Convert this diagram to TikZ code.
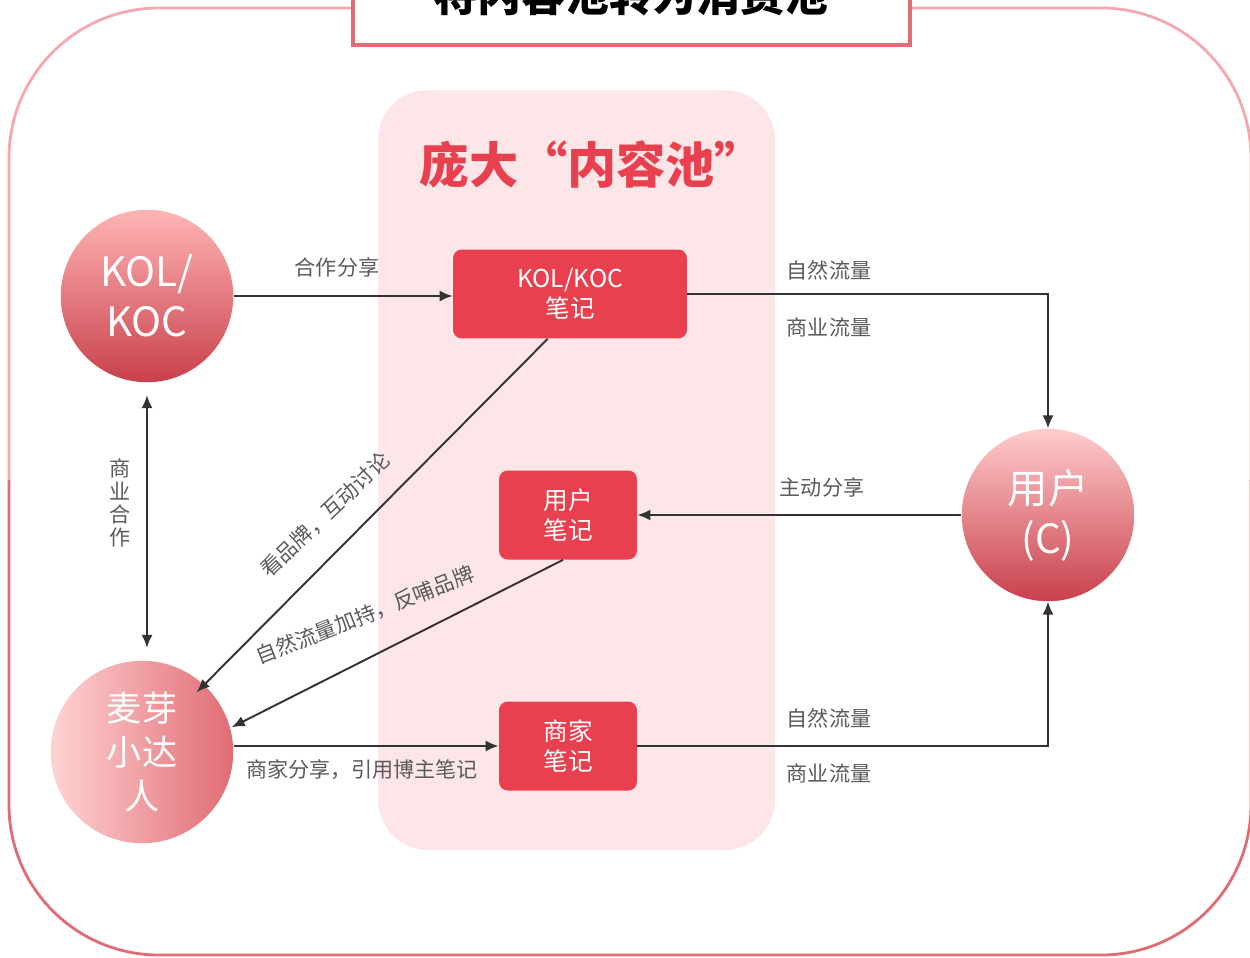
\documentclass[tikz,border=0pt]{standalone}
\usepackage{fontspec}
\setmainfont{Noto Sans CJK SC}
\usepackage{tikz}
\usetikzlibrary{positioning, arrows.meta}

\definecolor{framepink}{HTML}{F6A7B0}
\definecolor{framered}{HTML}{E06C74}
\definecolor{titlered}{HTML}{E06C74}
\definecolor{poolpink}{HTML}{FDE6E8}
\definecolor{notered}{HTML}{E8404F}
\definecolor{labelgray}{HTML}{5A5A5A}

\tikzset{
  note/.style={draw=none, fill=notered, rounded corners=5pt, text=white,
    font=\fontsize{14}{17}\selectfont, align=center},
  role/.style={circle, minimum size=3.45cm, text=white, align=center, inner sep=0pt},
  flow/.style={line width=1.1pt, black!80, -{Latex[length=2.6mm, width=2.2mm]}},
  lbl/.style={text=labelgray, font=\fontsize{12}{14}\selectfont, inner sep=1pt}
}

\begin{document}
\begin{tikzpicture}[x=0.02cm, y=-0.02cm]
  \useasboundingbox (0,0) rectangle (1250,957);

  % frame: light on top, darker below
  \begin{scope}
    \clip (0,0) rectangle (1250,480);
    \draw [framepink, line width=1.6pt, rounded corners=3cm] (9,8) rectangle (1251,955);
  \end{scope}
  \begin{scope}
    \clip (0,480) rectangle (1250,957);
    \draw [framered, line width=1.6pt, rounded corners=3cm] (9,8) rectangle (1251,955);
  \end{scope}
  \draw [fill=white, draw=titlered, line width=2pt] (353,-30) rectangle (910,45);
  \node (title) at (631,-5) {\fontsize{25}{30}\selectfont\bfseries 将内容池转为消费池};

  % content pool
  \fill [poolpink, rounded corners=1cm] (378,90) rectangle (775,850);
  \node [text=notered] (pool) at (592,165) {\fontsize{28}{32}\selectfont\bfseries 庞大“内容池”};

  % notes
  \node [note, minimum width=4.68cm, minimum height=1.78cm] (kolnote) at (570,294) {KOL/KOC\\笔记};
  \node [note, minimum width=2.76cm, minimum height=1.78cm] (usernote) at (568,515) {用户\\笔记};
  \node [note, minimum width=2.76cm, minimum height=1.78cm] (shopnote) at (568,746) {商家\\笔记};

  % roles
  \node [role, top color=red!10!pink!90!white, bottom color=notered!85!black!95,
    font=\fontsize{23}{28.5}\selectfont] (kol) at (147,296) {KOL/\\KOC};
  \node [role, top color=pink!80!white, bottom color=notered!85!black!95,
    font=\fontsize{23}{28.5}\selectfont] (user) at (1048,515) {用户\\(C)};
  \node [role, minimum size=3.65cm, left color=pink!70!white, right color=titlered,
    font=\fontsize{20}{25}\selectfont] (maiya) at (142,752) {麦芽\\小达\\人};

  % corners of the elbow connectors
  \coordinate (topbend) at (user.north |- kolnote.east);
  \coordinate (botbend) at (user.south |- shopnote.east);

  % connectors
  \draw [flow] (kol.east) -- (kol.east -| kolnote.west);
  \node [lbl] (lshare) at (337,267) {合作分享};

  \draw [flow] (kolnote.east) -- (topbend) -- (user.north);
  \node [lbl] (lnat1) at (829,270) {自然流量};
  \node [lbl] (lbiz1) at (829,327) {商业流量};

  \draw [flow] (user.west) -- (usernote.east);
  \node [lbl] (lactive) at (822,487) {主动分享};

  \draw [flow] (shopnote.east) -- (botbend) -- (user.south);
  \node [lbl] (lnat2) at (829,718) {自然流量};
  \node [lbl] (lbiz2) at (829,773) {商业流量};

  \draw [flow] (maiya.east |- shopnote.west) -- (shopnote.west);
  \node [lbl] (lquote) at (362,770) {商家分享，引用博主笔记};

  \draw [flow, {Latex[length=2.6mm, width=2.2mm]}-{Latex[length=2.6mm, width=2.2mm]}]
    ([yshift=-0.25cm]kol.south) -- ([yshift=0.25cm]maiya.north -| kol.south);
  \node [lbl, align=center, font=\fontsize{12}{13}\selectfont] (lcoop) at (120,503) {商\\业\\合\\作};

  \draw [flow] (kolnote.south west) ++(95,0) coordinate (kolfoot) -- ([xshift=-0.2cm, yshift=-0.1cm]maiya.north east);
  \node [lbl, rotate=43.7] (lread) at (325,515) {看品牌，互动讨论};

  \draw [flow] ([xshift=-0.1cm]usernote.south) -- ([xshift=0.5cm, yshift=-0.8cm]maiya.north east);
  \node [lbl, rotate=21.3] (lfeed) at (365,615) {自然流量加持，反哺品牌};
\end{tikzpicture}
\end{document}
